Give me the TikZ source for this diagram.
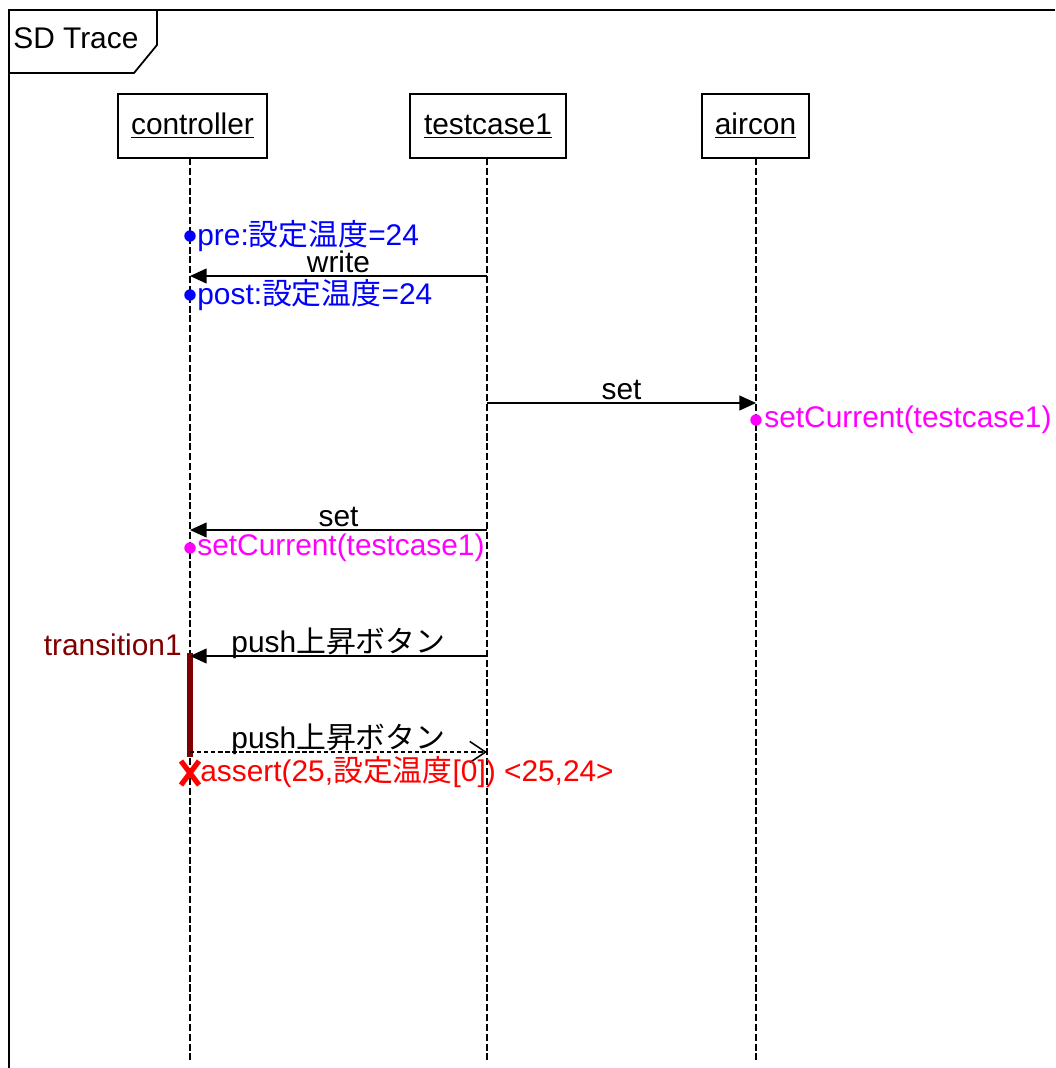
\documentclass[tikz,border=0pt]{standalone}
\usepackage{fontspec}
\setmainfont{Liberation Sans}
\newfontfamily\cjk{Noto Sans CJK JP}
\usetikzlibrary{arrows.meta}
\definecolor{prepostblue}{RGB}{0,0,255}
\definecolor{callmagenta}{RGB}{255,0,255}
\definecolor{failred}{RGB}{255,0,0}
\definecolor{transmaroon}{RGB}{128,0,0}
\def\xctl{190}
\def\xtc{487}
\def\xac{756}
\def\ybot{1062}
\newcommand{\jp}[1]{{\cjk #1}}
\tikzset{
  sdfont/.style={font=\fontsize{17}{20}\selectfont},
  lifehead/.style={draw,sdfont,line width=0.9pt,minimum height=1.28cm,inner sep=0pt},
  lifeline/.style={line width=0.7pt,dash pattern=on 4pt off 1.6pt},
  callmsg/.style={line width=0.8pt,-{Triangle[length=9.5pt,width=8.5pt]}},
  replymsg/.style={line width=0.8pt,dash pattern=on 2.5pt off 1.5pt,-{Straight Barb[length=9pt,width=12pt,line width=0.9pt]}},
  msglabel/.style={sdfont,inner sep=0pt,midway,anchor=base,yshift=1.8pt},
  evdot/.style={circle,fill,inner sep=0pt,minimum size=6.5pt},
  evtext/.style={sdfont,inner sep=0pt,anchor=west},
}

\begin{document}
\begin{tikzpicture}[x=0.02cm,y=-0.02cm,line cap=butt]
  \useasboundingbox (0,0) rectangle (1055,1068);
  % frame and its tab
  \draw[line width=1pt] (1055,10) -- (9,10) -- (9,1068);
  \draw[line width=1pt] (9,73) -- (134,73) -- (157,45) -- (157,10);
  \node[sdfont,anchor=west,inner sep=0pt] (frame-title) at (13,38) {SD Trace};
  % lifelines
  \node[lifehead,minimum width=2.98cm] (controller) at (192.5,126) {\underline{controller}};
  \node[lifehead,minimum width=3.12cm] (testcase1) at (488,126) {\underline{testcase1}};
  \node[lifehead,minimum width=2.14cm] (aircon) at (755.5,126) {\underline{aircon}};
  \coordinate (bottom) at (0,\ybot);
  \foreach \who/\x in {controller/\xctl, testcase1/\xtc, aircon/\xac} {
    \coordinate (\who-top) at (\x,158);
    \coordinate (\who-end) at (\x,\ybot);
    \draw[lifeline] (\who-top) -- (\who-end);
  }
  % message ends
  \foreach \m/\y in {write/276, setac/403, setctl/530, push/656, reply/752} {
    \coordinate (\m-ctl) at (\xctl,\y);
    \coordinate (\m-tc) at (\xtc,\y);
    \coordinate (\m-ac) at (\xac,\y);
  }
  % activation of transition1
  \coordinate (act-top) at (\xctl,653);
  \coordinate (act-bot) at (\xctl,757);
  \draw[transmaroon,line width=3.4pt] (act-top) -- (act-bot);
  \node[sdfont,transmaroon,anchor=east,inner sep=0pt] (trans-lbl) at (182,645) {transition1};
  % messages
  \draw[callmsg] (write-tc) -- node[msglabel] (write-lbl) {write} (write-ctl);
  \draw[callmsg] (setac-tc) -- node[msglabel] (setac-lbl) {set} (setac-ac);
  \draw[callmsg] (setctl-tc) -- node[msglabel] (setctl-lbl) {set} (setctl-ctl);
  \draw[callmsg] (push-tc) -- node[msglabel] (push-lbl) {push\jp{上昇ボタン}} (push-ctl);
  \draw[replymsg] (reply-ctl) -- node[msglabel] (reply-lbl) {push\jp{上昇ボタン}} (reply-tc);
  % events on the lifelines
  \node[evdot,prepostblue] (pre-dot) at (\xctl,236) {};
  \node[evtext,prepostblue] (pre-txt) at (197,236) {pre:\jp{設定温度}=24};
  \node[evdot,prepostblue] (post-dot) at (\xctl,295) {};
  \node[evtext,prepostblue] (post-txt) at (197,295) {post:\jp{設定温度}=24};
  \node[evdot,callmagenta] (cur-ac-dot) at (\xac,420) {};
  \node[evtext,callmagenta] (cur-ac-txt) at (764,420) {setCurrent(testcase1)};
  \node[evdot,callmagenta] (cur-ctl-dot) at (\xctl,548) {};
  \node[evtext,callmagenta] (cur-ctl-txt) at (197,548) {setCurrent(testcase1)};
  % failed assertion
  \draw[failred,line width=3pt] (181,761) -- (199,785) (199,761) -- (181,785);
  \node[evtext,failred] (assert-txt) at (200,772) {assert(25,\jp{設定温度}[0]) <25,24>};
\end{tikzpicture}
\end{document}
